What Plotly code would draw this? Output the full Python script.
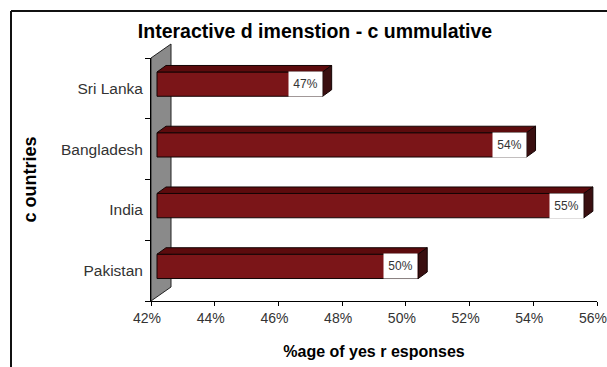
import plotly.graph_objects as go

# Share of "yes" responses per country (bottom to top)
countries = ["Pakistan", "India", "Bangladesh", "Sri Lanka"]
yes_share = [0.502, 0.554, 0.536, 0.472]
x_tick_vals = [0.42, 0.44, 0.46, 0.48, 0.50, 0.52, 0.54, 0.56]
x_tick_text = ["42%", "44%", "46%", "48%", "50%", "52%", "54%", "56%"]

title_text = "Interactive d imenstion - c ummulative"
x_title = "%age of yes r esponses"
y_title = "c ountries"

# Figure geometry
W, H = 607, 367
M_L, M_R, M_T, M_B = 151, 10, 58, 66
PLOT_W = W - M_L - M_R
PLOT_H = H - M_T - M_B
X_MIN, X_MAX = 0.42, 0.56
Y_MIN, Y_MAX = -0.5, len(countries) - 0.5

x_per_px = (X_MAX - X_MIN) / PLOT_W
y_per_px = (Y_MAX - Y_MIN) / PLOT_H

# Pseudo-3D depth offsets (pixels converted to axis units)
front_dx = 6 * x_per_px          # bars sit a little behind the axis plane
front_lift = 4.25 * y_per_px
bar_h = 24.3 * y_per_px
depth_dx = 9 * x_per_px
depth_dy = 6.5 * y_per_px
wall_dx_px, wall_dy_px = 20, 14

FONT = "Liberation Sans, Arial, sans-serif"
FRONT = "#7b1518"
TOP = "#5c0b0d"
SIDE = "#3a0f10"
EDGE = "#140404"

fig = go.Figure()

# Invisible carrier on the front (axis) plane so the visible axes are drawn
fig.add_trace(go.Scatter(
    x=yes_share, y=countries, mode="none", xaxis="x", yaxis="y",
    showlegend=False, hoverinfo="skip",
))

# Front faces of the bars, drawn on the depth-shifted plane
fig.add_trace(go.Bar(
    y=countries,
    x=[v - X_MIN for v in yes_share],
    base=X_MIN,
    orientation="h",
    xaxis="x2",
    yaxis="y",
    width=bar_h,
    offset=front_lift - bar_h / 2,
    marker=dict(color=FRONT, line=dict(color=EDGE, width=1)),
    showlegend=False,
    hoverinfo="skip",
))

shapes = []

# Side wall behind the category axis
wx = wall_dx_px / PLOT_W
wy = wall_dy_px / PLOT_H
shapes.append(dict(
    type="path", xref="paper", yref="paper", layer="below",
    path=f"M 0,0 L 0,1 L {wx},{1 + wy} L {wx},{wy} Z",
    fillcolor="#8a8a8a", line=dict(color="#222222", width=1),
))

# Top and side faces of each bar
for i, v in enumerate(yes_share):
    y_bot = i + front_lift - bar_h / 2
    y_top = i + front_lift + bar_h / 2
    shapes.append(dict(
        type="path", xref="x2", yref="y2", layer="above",
        path=(f"M {X_MIN},{y_top} L {v},{y_top} "
              f"L {v + depth_dx},{y_top + depth_dy} "
              f"L {X_MIN + depth_dx},{y_top + depth_dy} Z"),
        fillcolor=TOP, line=dict(color=EDGE, width=1),
    ))
    shapes.append(dict(
        type="path", xref="x2", yref="y2", layer="above",
        path=(f"M {v},{y_bot} L {v},{y_top} "
              f"L {v + depth_dx},{y_top + depth_dy} "
              f"L {v + depth_dx},{y_bot + depth_dy} Z"),
        fillcolor=SIDE, line=dict(color=EDGE, width=1),
    ))


def paper_x(px):
    return (px - M_L) / PLOT_W


def paper_y(px):
    return (M_T + PLOT_H - px) / PLOT_H


# Chart-area frame: top and left edges (right and bottom run off the figure)
shapes.append(dict(
    type="line", xref="paper", yref="paper", layer="above",
    x0=paper_x(11), x1=paper_x(W), y0=paper_y(11), y1=paper_y(11),
    line=dict(color="#111111", width=2),
))
shapes.append(dict(
    type="line", xref="paper", yref="paper", layer="above",
    x0=paper_x(11), x1=paper_x(11), y0=paper_y(H), y1=paper_y(11),
    line=dict(color="#111111", width=2),
))

# Value labels on white boxes at the end of each bar
annotations = []
for i, v in enumerate(yes_share):
    annotations.append(dict(
        xref="x2", yref="y2", x=v, y=i + front_lift,
        xanchor="right", yanchor="middle",
        text=f"{v:.0%}", showarrow=False,
        bgcolor="white", width=33, height=24, borderpad=0,
        font=dict(family=FONT, size=12, color="#333333"),
    ))

fig.update_layout(
    width=W, height=H, autosize=False,
    margin=dict(l=M_L, r=M_R, t=M_T, b=M_B, autoexpand=False),
    paper_bgcolor="white", plot_bgcolor="white",
    barmode="overlay",
    title=dict(
        text=title_text, x=315 / W, xanchor="center",
        y=1 - 31 / H, yanchor="middle", xref="container", yref="container",
        font=dict(family=FONT, size=19.5, color="#000000", weight="bold"),
    ),
    xaxis=dict(
        range=[X_MIN, X_MAX], tickvals=x_tick_vals, ticktext=x_tick_text,
        showline=True, linecolor="#000000", linewidth=1,
        ticks="outside", ticklen=4, tickcolor="#000000",
        showgrid=False, zeroline=False, automargin=False,
        ticklabeloverflow="allow", ticklabelshift=-4,
        tickfont=dict(family=FONT, size=14, color="#333333"),
        title=dict(text=x_title, standoff=21,
                   font=dict(family=FONT, size=16, color="#000000", weight="bold")),
    ),
    xaxis2=dict(
        range=[X_MIN - front_dx, X_MAX - front_dx], overlaying="x",
        visible=False,
    ),
    yaxis=dict(
        type="category", categoryorder="array", categoryarray=countries,
        range=[Y_MIN, Y_MAX], automargin=False,
        showline=True, linecolor="#000000", linewidth=1,
        ticks="outside", ticklen=5, tickcolor="#000000", tickson="boundaries",
        showgrid=False, zeroline=False, ticklabelstandoff=4,
        tickfont=dict(family=FONT, size=15.5, color="#333333"),
        title=dict(text=y_title, standoff=19,
                   font=dict(family=FONT, size=18, color="#000000", weight="bold")),
    ),
    yaxis2=dict(
        range=[Y_MIN, Y_MAX], overlaying="y", visible=False,
    ),
    shapes=shapes,
    annotations=annotations,
)

fig.write_html("out.html", config={"displayModeBar": False})
